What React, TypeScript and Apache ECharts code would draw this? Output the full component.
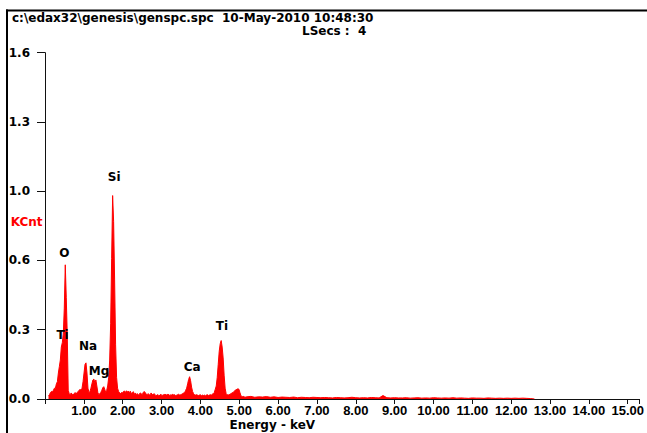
import { useEffect, useRef } from "react";
import * as echarts from "echarts";

// ---- data ----
const titleText = "c:\\edax32\\genesis\\genspc.spc  10-May-2010 10:48:30";
const liveText = "LSecs :  4";
const yAxisTitle = "KCnt";
const xAxisTitle = "Energy - keV";

// fine channels (keV) starting at START_KEV
const START_KEV = 0.09;
const CHANNEL_KEV = 0.0254;
const spectrumCounts = [
  0.015, 0.02, 0.03, 0.035, 0.035, 0.04, 0.05, 0.05, 0.07, 0.08,
  0.12, 0.15, 0.18, 0.24, 0.26, 0.3, 0.42, 0.62, 0.47, 0.3,
  0.04, 0.025, 0.02, 0.028, 0.022, 0.018, 0.025, 0.03, 0.022, 0.03,
  0.035, 0.04, 0.045, 0.04, 0.05, 0.08, 0.12, 0.16, 0.167, 0.12,
  0.05, 0.03, 0.035, 0.05, 0.07, 0.088, 0.092, 0.075, 0.088, 0.06,
  0.03, 0.02, 0.025, 0.03, 0.04, 0.052, 0.057, 0.045, 0.03, 0.04,
  0.06, 0.1, 0.18, 0.35, 0.65, 0.94, 0.82, 0.55, 0.25, 0.1,
  0.05, 0.035, 0.03, 0.025, 0.03, 0.028, 0.035, 0.037, 0.03, 0.038,
  0.032, 0.037, 0.03, 0.036, 0.025, 0.03, 0.034, 0.022, 0.028, 0.02,
  0.025, 0.018, 0.022, 0.028, 0.025, 0.02, 0.03, 0.035, 0.03, 0.022,
  0.02, 0.025, 0.018, 0.02, 0.028, 0.022, 0.018, 0.025, 0.02, 0.015,
  0.018, 0.02, 0.015, 0.018, 0.022, 0.015, 0.02, 0.018, 0.022, 0.02,
  0.018, 0.022, 0.02, 0.016, 0.02, 0.018, 0.022, 0.018, 0.02, 0.015,
  0.018, 0.02, 0.022, 0.018, 0.02, 0.022, 0.025, 0.028, 0.03, 0.04,
  0.05, 0.07, 0.09, 0.103, 0.085, 0.055, 0.035, 0.025, 0.02, 0.018,
  0.02, 0.018, 0.016, 0.018, 0.02, 0.015, 0.018, 0.016, 0.018, 0.015,
  0.018, 0.02, 0.016, 0.018, 0.02, 0.018, 0.022, 0.025, 0.03, 0.045,
  0.06, 0.1, 0.16, 0.22, 0.255, 0.27, 0.24, 0.19, 0.11, 0.05,
  0.025, 0.02, 0.018, 0.02, 0.022, 0.025, 0.028, 0.03, 0.035, 0.04,
  0.042, 0.045, 0.047, 0.045, 0.03, 0.015, 0.012, 0.01, 0.012, 0.008,
];

// coarse tail channels
const TAIL_START_KEV = 5.2;
const TAIL_STEP_KEV = 0.1;
const tailCounts = [
  0.01, 0.012, 0.008, 0.01, 0.009, 0.011, 0.008, 0.01, 0.007, 0.009,
  0.008, 0.007, 0.009, 0.006, 0.008, 0.007, 0.006, 0.008, 0.007, 0.006,
  0.007, 0.006, 0.005, 0.007, 0.006, 0.005, 0.006, 0.008, 0.006, 0.005,
  0.006, 0.005, 0.007, 0.006, 0.005, 0.016, 0.006, 0.005, 0.006, 0.005,
  0.005, 0.006, 0.004, 0.005, 0.006, 0.004, 0.005, 0.004, 0.006, 0.005,
  0.004, 0.005, 0.004, 0.006, 0.004, 0.005, 0.004, 0.003, 0.005, 0.004,
  0.004, 0.003, 0.005, 0.004, 0.003, 0.004, 0.003, 0.004, 0.003, 0.004,
  0.003, 0.004, 0.003, 0.002, 0.0,
];

const peakLabels = [
  { name: "O", keV: 0.5, kcnt: 0.675 },
  { name: "Si", keV: 1.779, kcnt: 1.024 },
  { name: "Ti", keV: 0.452, kcnt: 0.297 },
  { name: "Na", keV: 1.11, kcnt: 0.245 },
  { name: "Mg", keV: 1.39, kcnt: 0.131 },
  { name: "Ca", keV: 3.79, kcnt: 0.149 },
  { name: "Ti", keV: 4.554, kcnt: 0.338 },
];

const X_MIN = 0;
const X_MAX = 15.3;
const X_INTERVAL = 1;
const Y_MIN = 0;
const Y_MAX = 1.6;
const Y_INTERVAL = 0.32;

const FONT = "'DejaVu Sans', sans-serif";
const TICK_FONT = "'Liberation Sans', Arial, sans-serif";

export default function App() {
  const ref = useRef<HTMLDivElement>(null);

  useEffect(() => {
    if (!ref.current) return;
    const chart = echarts.init(ref.current, undefined, { renderer: "svg" });

    const lineData: [number, number][] = [];
    spectrumCounts.forEach((v, i) => lineData.push([START_KEV + i * CHANNEL_KEV, v]));
    tailCounts.forEach((v, i) => lineData.push([TAIL_START_KEV + i * TAIL_STEP_KEV, v]));

    chart.setOption({
      animation: false,
      backgroundColor: "#ffffff",
      grid: { left: 45, right: 0, top: 52.7, bottom: 34, containLabel: false, show: false },
      xAxis: {
        type: "value",
        min: X_MIN,
        max: X_MAX,
        interval: X_INTERVAL,
        splitLine: { show: false },
        splitArea: { show: false },
        axisLine: { show: true, lineStyle: { color: "#111", width: 1 } },
        axisTick: { show: true, length: 5, lineStyle: { color: "#111" } },
        axisLabel: {
          margin: 5,
          color: "#000",
          fontFamily: TICK_FONT,
          fontWeight: "bold",
          fontSize: 13,
          showMaxLabel: true,
          formatter: (v: number) =>
            Math.abs(v - Math.round(v)) < 1e-9 && v > 0 ? v.toFixed(2) : "",
        },
      },
      yAxis: {
        type: "value",
        min: Y_MIN,
        max: Y_MAX,
        interval: Y_INTERVAL,
        splitLine: { show: false },
        splitArea: { show: false },
        axisLine: { show: true, lineStyle: { color: "#111", width: 1 } },
        axisTick: { show: true, length: 8, lineStyle: { color: "#111" } },
        axisLabel: {
          margin: 15,
          color: "#000",
          fontFamily: FONT,
          fontWeight: "bold",
          fontSize: 12,
          formatter: (v: number) => v.toFixed(1),
        },
      },
      series: [
        {
          type: "line",
          data: lineData,
          showSymbol: false,
          symbol: "none",
          lineStyle: { color: "#ff0000", width: 1 },
          areaStyle: { color: "#ff0000", opacity: 1 },
          z: 3,
        },
        {
          type: "scatter",
          data: peakLabels.map((p) => ({ name: p.name, value: [p.keV, p.kcnt] })),
          symbol: "circle",
          symbolSize: 1,
          itemStyle: { color: "rgba(0,0,0,0)" },
          label: {
            show: true,
            position: "inside",
            formatter: (p: any) => p.name,
            color: "#000",
            fontFamily: FONT,
            fontWeight: "bold",
            fontSize: 12,
            opacity: 1,
          },
          z: 5,
        },
      ],
      graphic: [
        {
          type: "rect",
          z: 100,
          shape: { x: 636, y: 12, width: 11, height: 386 },
          style: { fill: "#ffffff" },
        },
        {
          type: "line",
          z: 101,
          shape: { x1: 7, y1: 9.5, x2: 7, y2: 433 },
          style: { stroke: "#000", lineWidth: 2 },
        },
        {
          type: "line",
          z: 101,
          shape: { x1: 6, y1: 10.5, x2: 647, y2: 10.5 },
          style: { stroke: "#000", lineWidth: 2 },
        },
        {
          type: "text",
          x: 12,
          y: 17.5,
          style: {
            text: titleText,
            fill: "#000",
            font: `bold 12px ${FONT}`,
            textVerticalAlign: "middle",
            textAlign: "left",
          },
        },
        {
          type: "text",
          x: 302,
          y: 31.3,
          style: {
            text: liveText,
            fill: "#000",
            font: `bold 12px ${FONT}`,
            textVerticalAlign: "middle",
            textAlign: "left",
          },
        },
        {
          type: "text",
          x: 10.7,
          y: 222.4,
          style: {
            text: yAxisTitle,
            fill: "#ff0000",
            font: `bold 12px ${FONT}`,
            textVerticalAlign: "middle",
            textAlign: "left",
          },
        },
        {
          type: "text",
          x: 229.5,
          y: 425,
          style: {
            text: xAxisTitle,
            fill: "#000",
            font: `bold 12px ${FONT}`,
            textVerticalAlign: "middle",
            textAlign: "left",
          },
        },
      ],
    });

    return () => chart.dispose();
  }, []);

  return (
    <div
      ref={ref}
      style={{ position: "fixed", left: 0, top: 0, width: 647, height: 433, background: "#fff" }}
    />
  );
}
